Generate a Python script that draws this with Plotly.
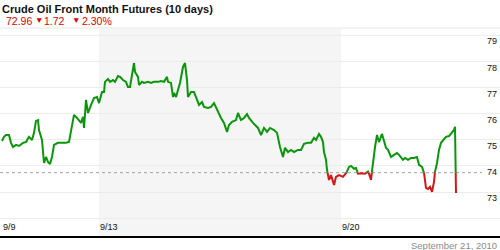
import plotly.graph_objects as go

# ---- data (half-hour bar index, price) ----
bars = [1, 3, 5, 8, 10, 12, 15, 18, 22, 25, 28, 31, 33, 35, 37, 38, 41, 42, 43, 45,
        47, 49, 51, 53, 57, 60, 65, 68, 70, 72, 73, 76, 78, 80, 82, 83, 85, 87, 90, 93,
        96, 98, 101, 103, 104, 107, 109, 112, 114, 117, 119, 122, 125, 127, 129, 131, 133, 134, 137, 138,
        141, 143, 147, 150, 153, 157, 160, 163, 166, 167, 170, 172, 173, 175, 177, 179, 182, 184, 186, 187,
        190, 193, 195, 198, 201, 203, 207, 210, 213, 217, 220, 223, 226, 228, 231, 235, 237, 240, 243, 246,
        248, 252, 257, 260, 263, 266, 269, 273, 276, 279, 282, 284, 287, 290, 293, 297, 300, 303, 307, 310,
        313, 315, 317, 318, 320, 322, 323, 325, 326, 328, 330, 333, 335, 338, 342, 345, 348, 350, 353, 355,
        357, 361, 364, 367, 368, 370, 371, 374, 376, 378, 381, 383, 385, 387, 390, 393, 396, 398, 402, 404,
        407, 410, 413, 416, 418, 421, 423, 425, 427, 429, 431, 433, 434, 436, 438, 440, 443, 445, 448, 452,
        453, 454, 455]
price = [74.95, 75.11, 75.18, 75.18, 74.88, 74.72, 74.80, 74.76, 74.88, 74.91, 75.11, 74.99, 75.26, 75.72, 75.75, 75.37, 74.99, 74.53, 74.11, 74.34,
         74.15, 74.07, 74.34, 74.80, 74.88, 74.88, 74.88, 74.91, 75.37, 75.75, 75.95, 75.83, 75.72, 75.64, 75.87, 75.45, 76.52, 76.02, 76.33, 76.59,
         76.63, 76.40, 76.82, 76.82, 77.21, 77.32, 77.21, 77.28, 77.21, 77.43, 77.40, 77.28, 77.21, 77.01, 77.01, 77.55, 77.93, 77.59, 77.40, 77.09,
         77.21, 77.17, 77.21, 77.17, 77.21, 77.21, 77.24, 77.21, 77.40, 77.21, 77.17, 76.63, 76.79, 76.63, 76.90, 77.17, 77.78, 77.93, 77.28, 76.63,
         76.82, 76.82, 76.63, 76.33, 76.44, 76.25, 76.21, 76.25, 76.40, 76.06, 75.83, 75.64, 75.30, 75.56, 75.68, 75.75, 76.02, 75.75, 75.83, 75.98,
         75.83, 75.64, 75.45, 75.18, 75.45, 75.30, 75.45, 75.37, 75.26, 74.72, 74.34, 74.69, 74.53, 74.61, 74.53, 74.61, 74.61, 74.84, 74.88, 74.88,
         75.07, 74.99, 75.18, 75.22, 75.11, 74.91, 74.53, 74.23, 73.85, 73.46, 73.65, 73.27, 73.58, 73.65, 73.58, 73.70, 73.96, 74.00, 73.89, 73.92,
         73.70, 73.72, 73.70, 73.78, 73.70, 73.46, 73.80, 74.72, 75.18, 74.91, 75.22, 74.99, 74.69, 74.61, 74.34, 74.42, 74.49, 74.42, 74.23, 74.30,
         74.23, 74.30, 74.30, 74.34, 74.04, 73.96, 73.73, 73.16, 73.12, 73.20, 73.01, 73.39, 73.77, 74.11, 74.61, 74.88, 75.03, 75.11, 75.14, 75.30,
         75.37, 75.49, 72.96]

ref_price = 73.74
day_start_bar = [1, 98, 340]
day_labels = ["9/9", "9/13", "9/20"]
shaded_week = [98, 340]
y_ticks = [72, 73, 74, 75, 76, 77, 78, 79]
y_labels = ["", "73", "74", "75", "76", "77", "78", "79"]

title_text = "Crude Oil Front Month Futures (10 days)"
last_price = "72.96"
change = "1.72"
change_pct = "2.30%"
date_text = "September 21, 2010"

GREEN = "#0a960a"
RED = "#d61515"

# split line into above / below reference segments
gx, gy, rx, ry = [], [], [], []
for i in range(len(bars)):
    x, v = bars[i], price[i]
    above = v >= ref_price
    if i > 0:
        px, pv = bars[i - 1], price[i - 1]
        pabove = pv >= ref_price
        if above != pabove:
            t = (ref_price - pv) / (v - pv)
            cx = px + t * (x - px)
            if pabove:
                gx += [cx, None]; gy += [ref_price, None]
                rx += [cx]; ry += [ref_price]
            else:
                rx += [cx, None]; ry += [ref_price, None]
                gx += [cx]; gy += [ref_price]
    if above:
        gx.append(x); gy.append(v)
    else:
        rx.append(x); ry.append(v)

fig = go.Figure()
fig.add_trace(go.Scatter(x=gx, y=gy, mode="lines", line=dict(color=GREEN, width=2),
                         connectgaps=False, hoverinfo="skip"))
fig.add_trace(go.Scatter(x=rx, y=ry, mode="lines", line=dict(color=RED, width=2),
                         connectgaps=False, hoverinfo="skip"))

FONT = "Liberation Sans, Arial, sans-serif"
H_PLOT = 207.0

def py(pix):
    # pixel row -> paper y
    return (236.0 - pix) / H_PLOT

fig.update_layout(
    width=500, height=250,
    margin=dict(l=0, r=0, t=29, b=14),
    paper_bgcolor="white", plot_bgcolor="white",
    showlegend=False,
    font=dict(family=FONT, size=9, color="#111"),
    xaxis=dict(range=[-1, 499], tickvals=day_start_bar, ticktext=day_labels,
               ticklabelposition="inside right", showgrid=False, zeroline=False,
               showline=True, linecolor="black", linewidth=2, ticks="",
               tickfont=dict(size=9, color="#111", family=FONT), fixedrange=True),
    yaxis=dict(range=[71.32, 79.23], side="right", tickvals=y_ticks, ticktext=y_labels,
               ticklabelposition="inside bottom", showgrid=True, gridcolor="#ececec",
               gridwidth=1, zeroline=False, showline=False, ticks="",
               tickfont=dict(size=9, color="#111", family=FONT), fixedrange=True),
    shapes=[
        dict(type="rect", xref="x", yref="paper", x0=shaded_week[0], x1=shaded_week[1],
             y0=0, y1=1, fillcolor="#f5f5f5", line=dict(width=0), layer="below"),
        dict(type="line", xref="paper", yref="paper", x0=0, x1=1, y0=py(28), y1=py(28),
             line=dict(color="#e6e6e6", width=1)),
        dict(type="line", xref="paper", yref="y", x0=0, x1=0.964, y0=ref_price, y1=ref_price,
             line=dict(color="#a0a0a0", width=1, dash="3px,3px"), layer="below"),
    ],
    annotations=[
        dict(text="<b>" + title_text + "</b>", xref="paper", yref="paper", x=0, y=py(9),
             xanchor="left", yanchor="middle", showarrow=False,
             font=dict(family=FONT, size=11, color="#111")),
        dict(text=last_price, xref="paper", yref="paper", x=4 / 500, y=py(20.5),
             xanchor="left", yanchor="middle", showarrow=False,
             font=dict(family=FONT, size=10.5, color="#e00000")),
        dict(text="▼", xref="paper", yref="paper", x=39 / 500, y=py(19.5),
             xanchor="center", yanchor="middle", showarrow=False,
             font=dict(family=FONT, size=8.5, color="#e00000")),
        dict(text=change, xref="paper", yref="paper", x=42 / 500, y=py(20.5),
             xanchor="left", yanchor="middle", showarrow=False,
             font=dict(family=FONT, size=10.5, color="#e00000")),
        dict(text="▼", xref="paper", yref="paper", x=76 / 500, y=py(19.5),
             xanchor="center", yanchor="middle", showarrow=False,
             font=dict(family=FONT, size=8.5, color="#e00000")),
        dict(text=change_pct, xref="paper", yref="paper", x=80 / 500, y=py(20.5),
             xanchor="left", yanchor="middle", showarrow=False,
             font=dict(family=FONT, size=10.5, color="#e00000")),
        dict(text=date_text, xref="paper", yref="paper", x=499 / 500, y=py(245),
             xanchor="right", yanchor="middle", showarrow=False,
             font=dict(family=FONT, size=9.5, color="#8a8a8a")),
    ],
)

fig.write_html("out.html", config={"displayModeBar": False})
